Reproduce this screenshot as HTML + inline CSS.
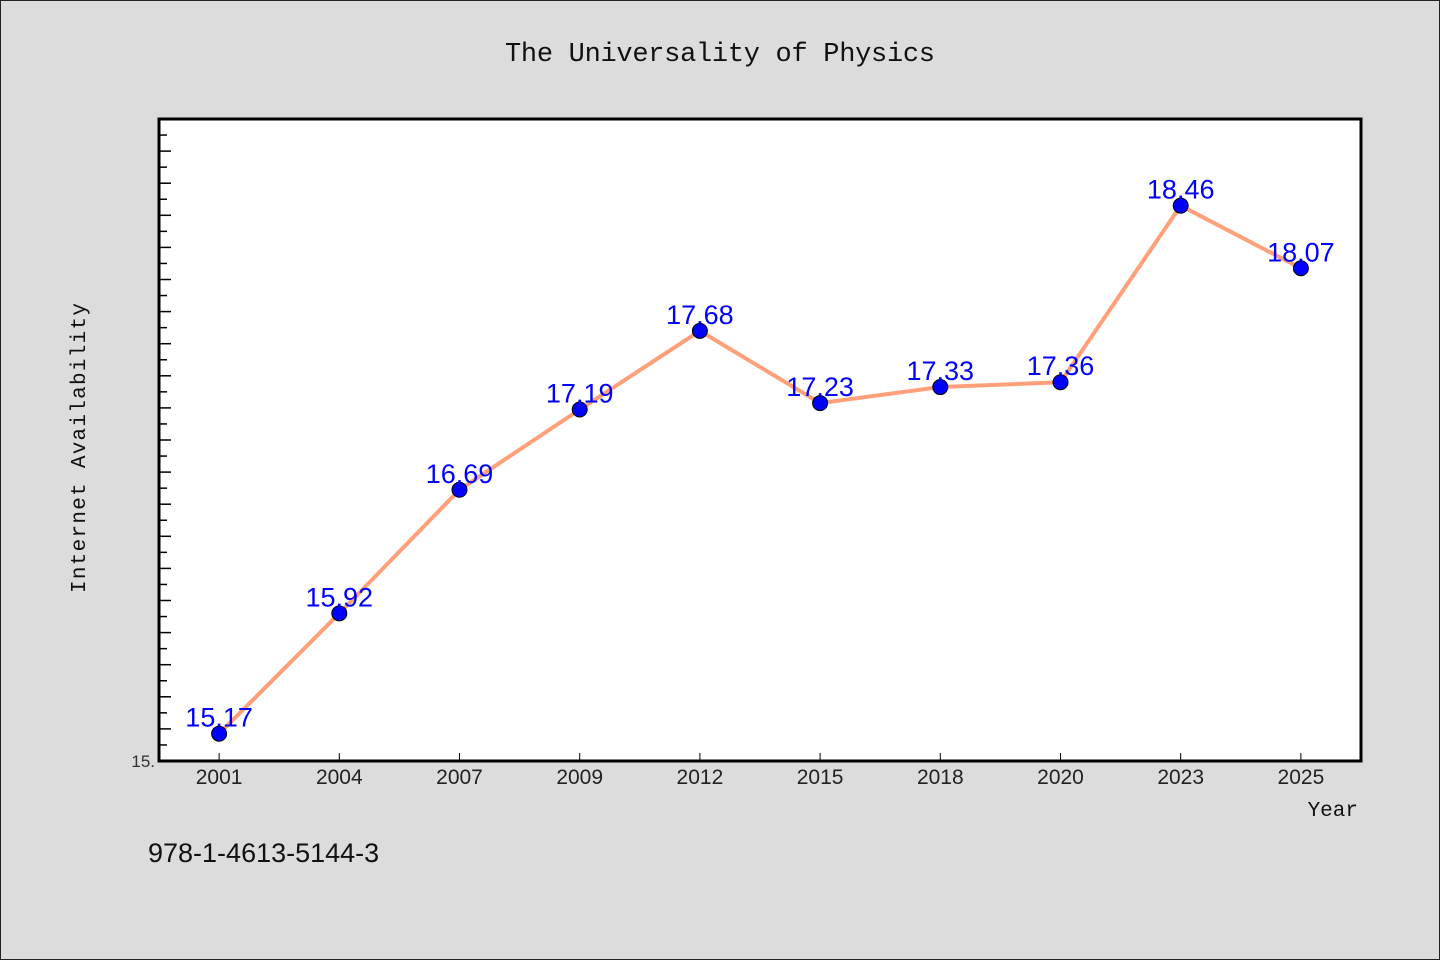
<!DOCTYPE html>
<html><head><meta charset="utf-8"><style>
html,body{margin:0;padding:0;background:#dcdcdc;}
svg{display:block;}
</style></head><body>
<svg width="1440" height="960" xmlns="http://www.w3.org/2000/svg">
<rect x="0.5" y="0.5" width="1439" height="959" fill="#dcdcdc" stroke="#222"/>
<text x="720" y="61" text-anchor="middle" font-family="Liberation Mono, monospace" font-size="27" textLength="430" fill="#111">The Universality of Physics</text>
<rect x="159" y="119" width="1202" height="642" fill="#fff"/>
<g id="ticks"></g>
<g id="series"></g>
<rect x="159" y="119" width="1202" height="642" fill="none" stroke="#000" stroke-width="3"/>
<text x="155" y="767" text-anchor="end" font-family="Liberation Sans, sans-serif" font-size="17" fill="#333">15.</text>
<text transform="translate(85,448) rotate(-90)" text-anchor="middle" font-family="Liberation Mono, monospace" font-size="21" textLength="290" fill="#111">Internet Availability</text>
<text x="1358" y="816" text-anchor="end" font-family="Liberation Mono, monospace" font-size="21" fill="#111">Year</text>
<text x="148" y="862" font-family="Liberation Sans, sans-serif" font-size="27" fill="#111">978-1-4613-5144-3</text>
</svg>
<script>
const categories = ["2001","2004","2007","2009","2012","2015","2018","2020","2023","2025"];
const values = [15.17,15.92,16.69,17.19,17.68,17.23,17.33,17.36,18.46,18.07];
const labels = ["15.17","15.92","16.69","17.19","17.68","17.23","17.33","17.36","18.46","18.07"];
const yMin = 15, yMax = 19;
const NS = "http://www.w3.org/2000/svg";
const L = 159, T = 119, W = 1202, H = 642;
function xs(i){ return L + (i + 0.5) * W / categories.length; }
function ys(v){ return T + H - (v - yMin) / (yMax - yMin) * H; }
function mk(tag, attrs){ const e = document.createElementNS(NS, tag); for (const k in attrs) e.setAttribute(k, attrs[k]); return e; }
const tg = document.getElementById("ticks");
for (let k = 1; k < 40; k++) {
  const y = ys(yMin + k * 0.1);
  const len = k % 2 === 0 ? 12 : 8;
  const t = mk("line", {x1: L, x2: L + len, y1: y, y2: y, stroke: "#000", "stroke-width": 1.5});
  
  
  tg.appendChild(t);
}
categories.forEach((c, i) => {
  const x = xs(i);
  const t = mk("line", {x1: x, x2: x, y1: T + H, y2: T + H - 8, stroke: "#000", "stroke-width": 1});
  
  
  tg.appendChild(t);
  const lb = mk("text", {x: x, y: T + H + 23, "text-anchor": "middle", "font-family": "Liberation Sans, sans-serif", "font-size": 21, fill: "#222"});
  lb.textContent = c;
  
  
  tg.appendChild(lb);
});
const sg = document.getElementById("series");
const pts = values.map((v, i) => xs(i) + "," + ys(v)).join(" ");
const line = mk("polyline", {points: pts, fill: "none", stroke: "#ffa07a", "stroke-width": 4, "stroke-linejoin": "round"});


sg.appendChild(line);
values.forEach((v, i) => {
  const c = mk("circle", {cx: xs(i), cy: ys(v), r: 7.5, fill: "#0000ff", stroke: "#000", "stroke-width": 1});
  
  
  sg.appendChild(c);
  const t = mk("text", {x: xs(i), y: ys(v) - 7, "text-anchor": "middle", "font-family": "Liberation Sans, sans-serif", "font-size": 27, fill: "#0000ff"});
  t.textContent = labels[i];
  
  
  sg.appendChild(t);
});
</script>
</body></html>
